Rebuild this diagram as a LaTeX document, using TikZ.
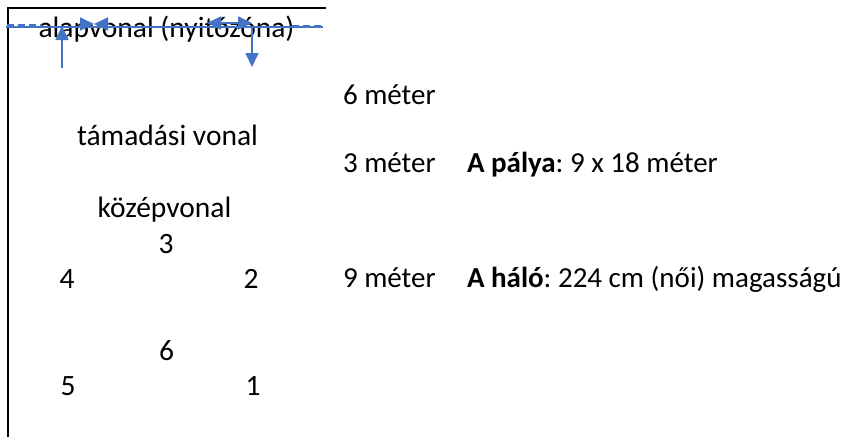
\documentclass[tikz,border=0pt]{standalone}
\usepackage{fontspec}
\setmainfont{Carlito}
\usetikzlibrary{arrows.meta}
\definecolor{offblue}{RGB}{68,114,196}
\tikzset{
  lbl/.style={inner sep=0pt, outer sep=0pt, font=\fontsize{29.5}{35}\selectfont\frenchspacing, text=black},
  rlbl/.style={inner sep=0pt, outer sep=0pt, font=\fontsize{29}{34}\selectfont\frenchspacing, text=black},
  bl/.style={draw=offblue, line width=1.8pt},
  tip/.style={-{Triangle[width=13pt,length=14pt]}},
  frame/.style={draw=black, line width=2.8pt}
}
\begin{document}
\begin{tikzpicture}[x=1pt,y=-1pt]
\useasboundingbox (0,0) rectangle (856,437);
% frame
\coordinate (fb) at (8,437);
\coordinate (fc) at (8,8);
\coordinate (fr) at (326,8);
\draw[frame] (fb) -- (fc) -- (fr);
% texts
\node[lbl, anchor=base] (alap) at (166.5,37) {alapvonal (nyitózóna)};
\node[lbl, anchor=base] (tam) at (167.5,145) {támadási vonal};
\node[lbl, anchor=base] (kozep) at (164.5,217) {középvonal};
\node[lbl, anchor=base] (p3) at (166,253) {3};
\node[lbl, anchor=base] (p4) at (67,288) {4};
\node[lbl, anchor=base] (p2) at (251,288) {2};
\node[lbl, anchor=base] (p6) at (166.5,360) {6};
\node[lbl, anchor=base] (p5) at (68,395) {5};
\node[lbl, anchor=base] (p1) at (253,395) {1};
\node[rlbl, anchor=base west] (m6) at (343,104) {6 méter};
\node[rlbl, anchor=base west] (m3) at (343,172) {3 méter};
\node[rlbl, anchor=base west] (palya) at (467,172) {\textbf{A pálya}: 9 x 18 méter};
\node[rlbl, anchor=base west] (m9) at (343,287) {9 méter};
\node[rlbl, anchor=base west] (halo) at (467,287) {\textbf{A háló}: 224 cm (női) magasságú};
% blue lines
\coordinate (hl) at (6,27);
\coordinate (hr) at (323,27);
\draw[bl] (hl) -- (hr);
\coordinate (dl1) at (7,25);
\coordinate (dl2) at (42,25);
\draw[bl, dash pattern=on 7pt off 4pt] (dl1) -- (dl2);
\coordinate (dr1) at (292,26);
\coordinate (dr2) at (323,26);
\draw[bl, dash pattern=on 7pt off 4pt] (dr1) -- (dr2);
% left vertical arrow up
\coordinate (v1b) at (62,68);
\coordinate (v1t) at (62,26);
\draw[bl, tip] (v1b) -- (v1t);
% bowtie
\coordinate (bw1) at (80,24);
\coordinate (bwm) at (94,24);
\coordinate (bw2) at (108,24);
\draw[bl, tip] (bw1) -- (bwm);
\draw[bl, tip] (bw2) -- (bwm);
% right double arrow
\coordinate (da1) at (207,23);
\coordinate (da2) at (252,23);
\draw[bl, {Triangle[width=13pt,length=14pt]}-{Triangle[width=13pt,length=14pt]}] (da1) -- (da2);
% right vertical arrow down
\coordinate (v2t) at (252,27);
\coordinate (v2b) at (252,67);
\draw[bl, tip] (v2t) -- (v2b);
\end{tikzpicture}
\end{document}
